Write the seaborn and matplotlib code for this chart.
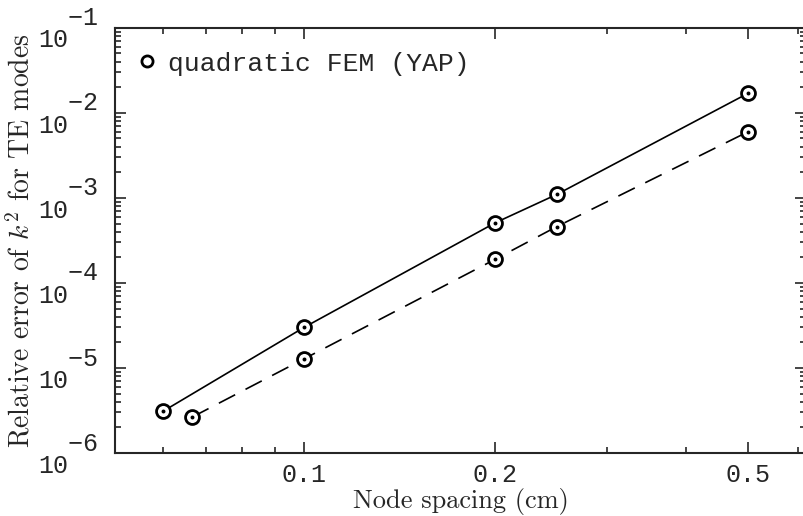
import pandas as pd
import seaborn as sns
import matplotlib.pyplot as plt
from matplotlib.lines import Line2D
from matplotlib.ticker import LogLocator, NullFormatter

# values (log-log convergence plot)
spacing_solid = [0.06, 0.1, 0.2, 0.25, 0.5]
error_solid = [3.1e-6, 3.0e-5, 5.1e-4, 1.1e-3, 1.7e-2]
spacing_dashed = [0.0667, 0.1, 0.2, 0.25, 0.5]
error_dashed = [2.65e-6, 1.28e-5, 1.9e-4, 4.6e-4, 6.0e-3]
x_ticks = [0.1, 0.2, 0.5]
x_tick_labels = ['0.1', '0.2', '0.5']
y_exponents = [-6, -5, -4, -3, -2, -1]
legend_label = 'quadratic FEM (YAP)'

df = pd.DataFrame({
    'spacing': spacing_solid + spacing_dashed,
    'error': error_solid + error_dashed,
    'series': ['solid'] * len(spacing_solid) + ['dashed'] * len(spacing_dashed),
})

sns.set_style('ticks')
plt.rcParams['mathtext.fontset'] = 'cm'
mono = ['Liberation Mono', 'DejaVu Sans Mono']
serif = ['cmr10', 'DejaVu Serif']

fig = plt.figure(figsize=(8.04, 5.16), dpi=100)
# right spine sits just past the image edge, as in the reference
ax = fig.add_axes([0.143, 0.122, 0.8595, 0.824])
ax.set_xscale('log')
ax.set_yscale('log')

sns.lineplot(data=df, x='spacing', y='error', style='series', color='black',
             dashes={'solid': '', 'dashed': (11, 7)}, linewidth=1.2,
             legend=False, sort=False, ax=ax, zorder=2)
sns.scatterplot(data=df, x='spacing', y='error', s=100, facecolor='white',
                edgecolor='black', linewidth=2.0, legend=False, ax=ax, zorder=3)
sns.scatterplot(data=df, x='spacing', y='error', s=8, color='black',
                linewidth=0, legend=False, ax=ax, zorder=4)

ax.set_xlim(0.0504, 0.617)
ax.set_ylim(1e-6, 1e-1)

ax.set_xticks(x_ticks, labels=x_tick_labels)
ax.xaxis.set_minor_locator(LogLocator(base=10, subs=range(2, 10)))
ax.xaxis.set_minor_formatter(NullFormatter())
ax.set_yticks([10.0 ** e for e in y_exponents],
              labels=['  \u2212%d\n10' % abs(e) for e in y_exponents])
ax.yaxis.set_minor_locator(LogLocator(base=10, subs=range(2, 10)))
ax.yaxis.set_minor_formatter(NullFormatter())

ax.tick_params(which='both', direction='in', top=True, right=True, width=1.2)
ax.tick_params(which='major', length=8)
ax.tick_params(which='minor', length=4)
ax.tick_params(axis='x', pad=7)
ax.tick_params(axis='y', pad=12)
for lab in ax.get_xticklabels() + ax.get_yticklabels():
    lab.set_family(mono)
    lab.set_fontsize(18)
for lab in ax.get_yticklabels():
    lab.set_multialignment('left')
    lab.set_linespacing(0.9)
for sp in ax.spines.values():
    sp.set_linewidth(1.5)

ax.set_xlabel('Node spacing (cm)', family=serif, fontsize=19, labelpad=1)
ax.set_ylabel('Relative error of $k^2$ for TE modes', family=serif,
              fontsize=20, labelpad=2)

handle = Line2D([], [], linestyle='none', marker='o', markersize=8,
                markerfacecolor='white', markeredgecolor='black',
                markeredgewidth=2.0)
ax.legend([handle], [legend_label], loc='upper left', frameon=False,
          prop={'family': mono, 'size': 19}, handlelength=0.6,
          handletextpad=0.5, borderaxespad=0.5)

fig.savefig('out.png', dpi=100)
